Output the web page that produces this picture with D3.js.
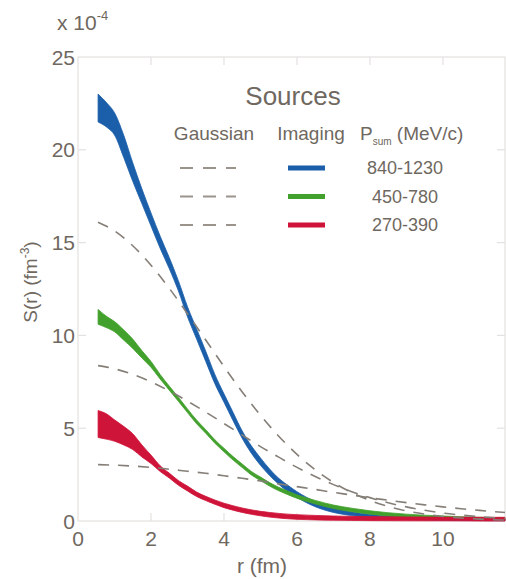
<!DOCTYPE html>
<html>
<head>
<meta charset="utf-8">
<script src="https://cdn.jsdelivr.net/npm/d3@7"></script>
<style>
  body { margin: 0; background: #fff; }
  svg text { font-family: "Liberation Sans", Arial, Helvetica, sans-serif; fill: #6f6860; }
</style>
</head>
<body>
<svg id="chart" width="506" height="579"></svg>
<script>
(function() {
    'use strict';

    // radius grid (fm) for the imaging bands
    var rBand = [0.55, 0.8, 1.0, 1.25, 1.5, 1.75, 2.0, 2.25, 2.5, 2.75, 3.0, 3.25, 3.5, 3.75,
        4.0, 4.25, 4.5, 4.75, 5.0, 5.25, 5.5, 5.75, 6.0, 6.5, 7.0, 7.5, 8.0, 9.0, 10.0, 11.0, 11.7];

    // imaging sources, lower / upper edge (x 1e-4 fm^-3)
    var blueLo = [21.5, 21.2, 20.8, 19.6, 18.3, 17.1, 15.9, 14.7, 13.6, 12.4, 11.0, 9.8, 8.6, 7.4,
        6.4, 5.4, 4.45, 3.65, 3.0, 2.45, 1.98, 1.58, 1.27, 0.77, 0.46, 0.29, 0.18, 0.08, 0.04, 0.02, 0.01];
    var blueHi = [23.0, 22.5, 22.0, 20.8, 19.3, 17.9, 16.6, 15.35, 14.2, 12.95, 11.55, 10.35, 9.15, 7.9,
        6.85, 5.85, 4.85, 4.05, 3.4, 2.8, 2.3, 1.92, 1.58, 1.05, 0.72, 0.5, 0.36, 0.23, 0.17, 0.13, 0.11];

    var greenLo = [10.6, 10.4, 10.2, 9.75, 9.3, 8.78, 8.28, 7.65, 7.05, 6.45, 5.84, 5.24, 4.73, 4.19,
        3.73, 3.28, 2.88, 2.48, 2.18, 1.88, 1.63, 1.42, 1.22, 0.92, 0.67, 0.5, 0.37, 0.2, 0.11, 0.06, 0.04];
    var greenHi = [11.4, 11.0, 10.75, 10.3, 9.8, 9.18, 8.6, 7.9, 7.27, 6.67, 6.04, 5.44, 4.92, 4.38,
        3.92, 3.47, 3.07, 2.67, 2.37, 2.07, 1.82, 1.61, 1.41, 1.11, 0.86, 0.69, 0.55, 0.37, 0.27, 0.2, 0.18];

    var redLo = [4.5, 4.4, 4.3, 4.1, 3.85, 3.45, 3.1, 2.67, 2.32, 1.93, 1.62, 1.32, 1.1, 0.9,
        0.72, 0.58, 0.46, 0.36, 0.28, 0.21, 0.16, 0.12, 0.09, 0.06, 0.04, 0.03, 0.02, 0.01, 0.01, 0.0, 0.0];
    var redHi = [5.95, 5.75, 5.45, 5.1, 4.7, 4.1, 3.55, 2.98, 2.58, 2.18, 1.88, 1.56, 1.33, 1.13,
        0.96, 0.82, 0.7, 0.6, 0.52, 0.46, 0.41, 0.37, 0.34, 0.3, 0.27, 0.25, 0.24, 0.22, 0.21, 0.2, 0.2];

    // gaussian sources
    var rGauss = [0.55, 1, 1.5, 2, 2.5, 3, 3.5, 4, 4.5, 5, 5.5, 6, 6.5, 7, 7.5, 8, 8.5, 9, 9.5, 10,
        10.5, 11, 11.7];
    var gaussHigh = [16.1, 15.63, 14.83, 13.78, 12.54, 11.17, 9.75, 8.32, 6.95, 5.7, 4.57, 3.59,
        2.76, 2.08, 1.53, 1.11, 0.78, 0.54, 0.37, 0.245, 0.16, 0.1, 0.05];
    var gaussMid = [8.37, 8.2, 7.9, 7.5, 7.01, 6.46, 5.87, 5.25, 4.63, 4.01, 3.44, 2.89, 2.4,
        1.96, 1.58, 1.26, 0.98, 0.76, 0.58, 0.43, 0.32, 0.23, 0.14];
    var gaussLow = [3.04, 3.01, 2.96, 2.89, 2.79, 2.68, 2.57, 2.44, 2.3, 2.16, 2.0, 1.85, 1.7,
        1.54, 1.4, 1.25, 1.12, 0.99, 0.87, 0.76, 0.66, 0.57, 0.46];

    var pLabels = ["840-1230", "450-780", "270-390"];
    var colors = ["#1b5ea9", "#42a12d", "#cf1439"];
    var xTicks = [0, 2, 4, 6, 8, 10];
    var yTicks = [0, 5, 10, 15, 20, 25];

    var left = 78, right = 505, top = 57, bottom = 521;

    var svg = d3.select("#chart");

    var x = d3.scaleLinear().domain([0, 11.7]).range([left, right]);
    var y = d3.scaleLinear().domain([0, 25]).range([bottom, top]);

    // frame with inward ticks on all four sides
    var frame = svg.append("g").attr("stroke", "#e4e2e0").attr("stroke-width", 1.2).attr("fill", "none");
    frame.append("rect")
        .attr("x", left).attr("y", top)
        .attr("width", right - left).attr("height", bottom - top);

    frame.selectAll("line.xb").data(xTicks.slice(1)).enter().append("line")
        .attr("x1", function(d) { return x(d); }).attr("x2", function(d) { return x(d); })
        .attr("y1", bottom).attr("y2", bottom - 8);
    frame.selectAll("line.xt").data(xTicks.slice(1)).enter().append("line")
        .attr("x1", function(d) { return x(d); }).attr("x2", function(d) { return x(d); })
        .attr("y1", top).attr("y2", top + 8);
    frame.selectAll("line.yl").data(yTicks.slice(1, 5)).enter().append("line")
        .attr("x1", left).attr("x2", left + 8)
        .attr("y1", function(d) { return y(d); }).attr("y2", function(d) { return y(d); });
    frame.selectAll("line.yr").data(yTicks.slice(1, 5)).enter().append("line")
        .attr("x1", right).attr("x2", right - 8)
        .attr("y1", function(d) { return y(d); }).attr("y2", function(d) { return y(d); });

    // tick labels
    svg.selectAll("text.xtick").data(xTicks).enter().append("text")
        .attr("x", function(d) { return x(d); })
        .attr("y", 546)
        .attr("text-anchor", "middle")
        .attr("font-size", 21)
        .text(function(d) { return d; });

    svg.selectAll("text.ytick").data(yTicks).enter().append("text")
        .attr("x", 75)
        .attr("y", function(d) { return y(d); })
        .attr("dy", "0.36em")
        .attr("text-anchor", "end")
        .attr("font-size", 21)
        .text(function(d) { return d; });

    // exponent
    var expo = svg.append("text").attr("x", 57).attr("y", 30).attr("font-size", 21);
    expo.append("tspan").text("x 10");
    expo.append("tspan").attr("font-size", 13).attr("dy", -10).text("-4");

    // axis titles
    svg.append("text")
        .attr("x", 262).attr("y", 573)
        .attr("text-anchor", "middle")
        .attr("font-size", 21)
        .text("r (fm)");

    var ylab = svg.append("text")
        .attr("transform", "translate(37,282) rotate(-90)")
        .attr("text-anchor", "middle")
        .attr("font-size", 19);
    ylab.append("tspan").text("S(r) (fm");
    ylab.append("tspan").attr("font-size", 12).attr("dy", -8).text("-3");
    ylab.append("tspan").attr("dy", 8).text(")");

    // imaging bands
    var bands = [
        {lo: blueLo, hi: blueHi, color: colors[0]},
        {lo: greenLo, hi: greenHi, color: colors[1]},
        {lo: redLo, hi: redHi, color: colors[2]}
    ];

    var area = d3.area()
        .x(function(d) { return x(d.r); })
        .y0(function(d) { return y(d.lo); })
        .y1(function(d) { return y(d.hi); })
        .curve(d3.curveMonotoneX);

    bands.forEach(function(b) {
        var pts = rBand.map(function(r, i) { return {r: r, lo: b.lo[i], hi: b.hi[i]}; });
        svg.append("path")
            .datum(pts)
            .attr("d", area)
            .attr("fill", b.color)
            .attr("stroke", b.color)
            .attr("stroke-width", 0.8)
            .attr("stroke-linejoin", "round");
    });

    // gaussian dashed curves
    var line = d3.line()
        .x(function(d) { return x(d.r); })
        .y(function(d) { return y(d.v); })
        .curve(d3.curveMonotoneX);

    [gaussHigh, gaussMid, gaussLow].forEach(function(g) {
        var pts = rGauss.map(function(r, i) { return {r: r, v: g[i]}; });
        svg.append("path")
            .datum(pts)
            .attr("d", line)
            .attr("fill", "none")
            .attr("stroke", "#857f78")
            .attr("stroke-width", 1.6)
            .attr("stroke-dasharray", "11,9");
    });

    // legend
    svg.append("text")
        .attr("x", 293).attr("y", 105)
        .attr("text-anchor", "middle")
        .attr("font-size", 26)
        .text("Sources");

    svg.append("text").attr("x", 214).attr("y", 140).attr("text-anchor", "middle")
        .attr("font-size", 19).text("Gaussian");
    svg.append("text").attr("x", 311).attr("y", 140).attr("text-anchor", "middle")
        .attr("font-size", 19).text("Imaging");
    var ph = svg.append("text").attr("x", 360).attr("y", 140).attr("font-size", 19);
    ph.append("tspan").text("P");
    ph.append("tspan").attr("font-size", 10).attr("dy", 5).text("sum");
    ph.append("tspan").attr("dy", -5).text(" (MeV/c)");

    var rows = svg.selectAll("g.row").data(pLabels).enter().append("g")
        .attr("transform", function(d, i) { return "translate(0," + (168 + i * 28.5) + ")"; });

    rows.append("line")
        .attr("x1", 180).attr("x2", 236).attr("y1", 0).attr("y2", 0)
        .attr("stroke", "#9a948d").attr("stroke-width", 1.8)
        .attr("stroke-dasharray", "13,10");
    rows.append("line")
        .attr("x1", 288).attr("x2", 325).attr("y1", 0).attr("y2", 0)
        .attr("stroke", function(d, i) { return colors[i]; })
        .attr("stroke-width", 5);
    rows.append("text")
        .attr("x", 405).attr("y", 0).attr("dy", "0.36em")
        .attr("text-anchor", "middle")
        .attr("font-size", 18)
        .text(function(d) { return d; });
})();
</script>
</body>
</html>
